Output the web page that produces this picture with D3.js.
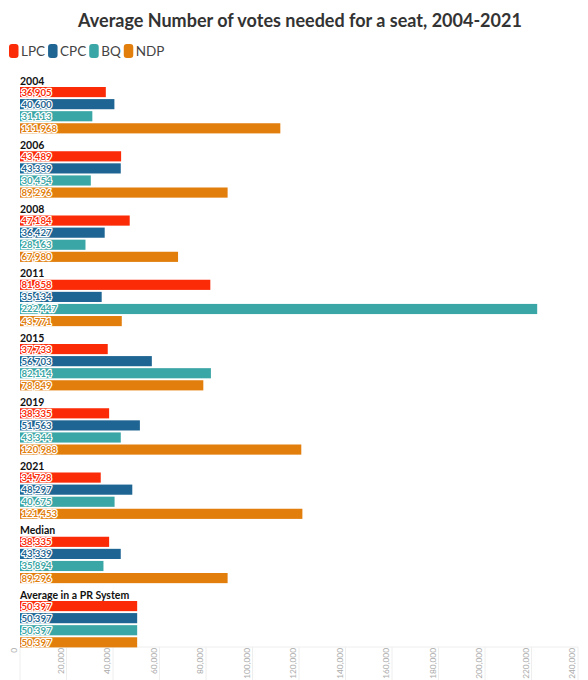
<!DOCTYPE html>
<html>
<head>
<meta charset="utf-8">
<script src="https://cdn.jsdelivr.net/npm/d3@7"></script>
<style>
	body { margin:0; background:#fff; font-family: Lato, "Noto Sans", sans-serif; }
	svg { display:block; }
</style>
</head>
<body>
<svg id="chart" width="588" height="680"></svg>
<script>
	var width = 588;
	var height = 680;

	var parties = ["LPC","CPC","BQ","NDP"];
	var colors = ["#fb2a07","#1e6593","#3aa6a5","#e27e0c"];
	var groups = ["2004","2006","2008","2011","2015","2019","2021","Median","Average in a PR System"];
	var lpc = [36905,43489,47184,81858,37733,38335,34728,38335,50397];
	var cpc = [40600,43339,36427,35134,56703,51563,48297,43339,50397];
	var bq  = [31113,30454,28163,222447,82114,43344,40675,35894,50397];
	var ndp = [111968,89296,67980,43771,78849,120988,121453,89296,50397];
	var ticks = [0,20000,40000,60000,80000,100000,120000,140000,160000,180000,200000,220000,240000];

	var series = [lpc,cpc,bq,ndp];
	var fmt = d3.format(",");

	var svg = d3.select("#chart");

	var x = d3.scaleLinear().domain([0,240000]).range([20,578]);
	var yGroup = d3.scaleBand().domain(groups).range([75,75+64.25*groups.length]).paddingInner(0).paddingOuter(0);
	var yBar = d3.scaleBand().domain(parties).range([12,58.4]).paddingInner(0.16).paddingOuter(0);
	var color = d3.scaleOrdinal().domain(parties).range(colors);

	// title
	svg.append("text")
		.attr("x",300).attr("y",27)
		.attr("text-anchor","middle")
		.attr("font-size",18)
		.attr("font-weight","bold")
		.attr("fill","#333")
		.text("Average Number of votes needed for a seat, 2004-2021");

	// legend
	var lx = 9;
	parties.forEach(function(p) {
		svg.append("rect")
			.attr("x",lx).attr("y",44).attr("width",9.5).attr("height",14)
			.attr("rx",3).attr("fill",color(p));
		var t = svg.append("text")
			.attr("x",lx+12).attr("y",56)
			.attr("font-size",13.5)
			.attr("fill","#444")
			.text(p);
		lx += 12 + t.node().getComputedTextLength() + 3;
	});

	// axis (gridlines + rotated labels)
	var axis = svg.append("g");
	axis.append("line")
		.attr("x1",x(0)).attr("x2",x(240000))
		.attr("y1",647).attr("y2",647)
		.attr("stroke","#eee");
	axis.selectAll("line.tick")
		.data(ticks)
		.enter()
		.append("line")
		.attr("class","tick")
		.attr("x1",function(d){return x(d);})
		.attr("x2",function(d){return x(d);})
		.attr("y1",647).attr("y2",680)
		.attr("stroke","#eee");
	axis.selectAll("text")
		.data(ticks)
		.enter()
		.append("text")
		.attr("transform",function(d){return "translate("+(x(d)-3)+",648) rotate(-90)";})
		.attr("text-anchor","end")
		.attr("font-size",8.3)
		.attr("fill","#aaa")
		.text(function(d){return fmt(d);});

	// groups
	var g = svg.selectAll("g.group")
		.data(groups)
		.enter()
		.append("g")
		.attr("class","group")
		.attr("transform",function(d){return "translate(0,"+yGroup(d)+")";});

	g.append("text")
		.attr("x",20).attr("y",9.5)
		.attr("font-size",10.5)
		.attr("font-weight","bold")
		.attr("fill","#111")
		.text(function(d){return d;});

	var bars = g.selectAll("g.bar")
		.data(function(d,i){
			return parties.map(function(p,j){return {party:p, value:series[j][i]};});
		})
		.enter()
		.append("g")
		.attr("class","bar");

	bars.append("rect")
		.attr("x",x(0))
		.attr("y",function(d){return yBar(d.party);})
		.attr("width",function(d){return x(d.value)-x(0);})
		.attr("height",yBar.bandwidth())
		.attr("fill",function(d){return color(d.party);});

	bars.append("text")
		.attr("x",x(0)+1.5)
		.attr("y",function(d){return yBar(d.party)+yBar.bandwidth()/2+3.5;})
		.attr("font-size",9.6)
		.attr("font-weight","bold")
		.attr("fill",function(d){return color(d.party);})
		.attr("stroke","#fff")
		.attr("stroke-width",2.4)
		.attr("stroke-linejoin","round")
		.attr("paint-order","stroke")
		.text(function(d){return fmt(d.value);});
</script>
</body>
</html>
